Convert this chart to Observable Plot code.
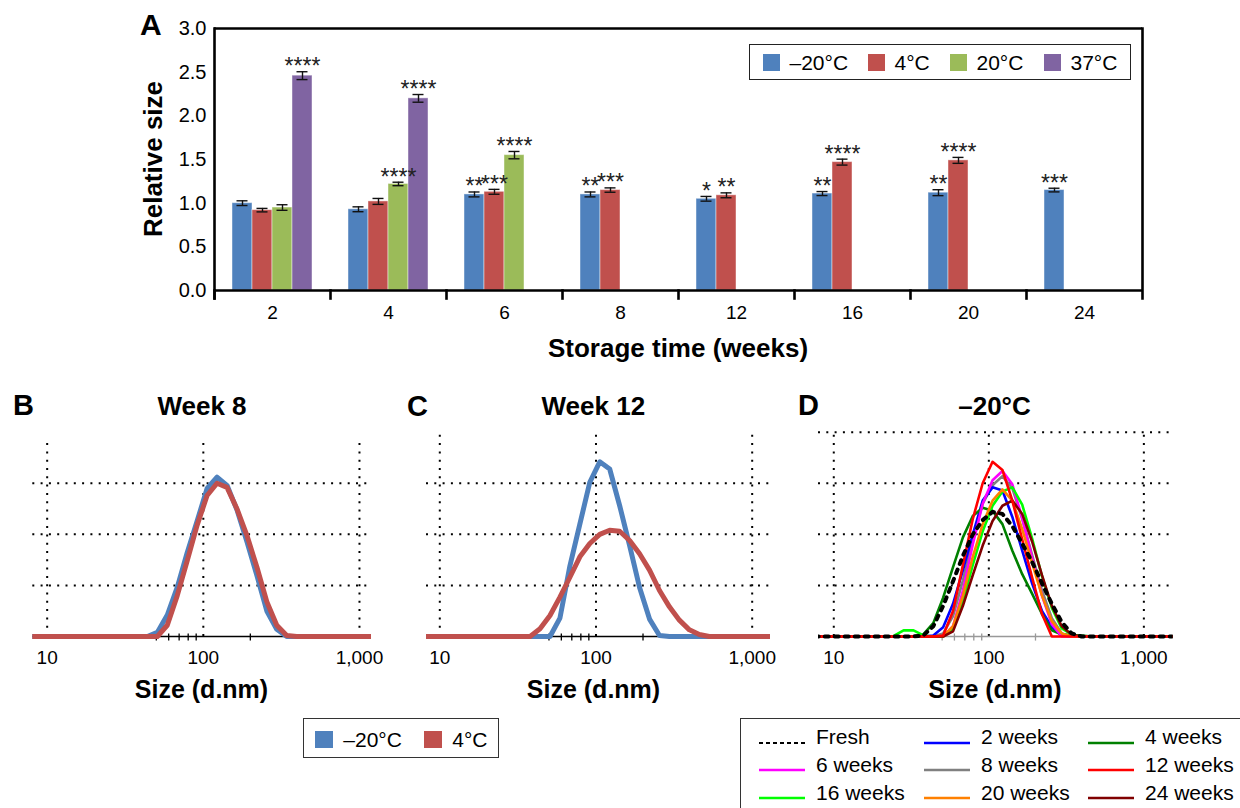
<!DOCTYPE html>
<html><head><meta charset="utf-8">
<script src="https://cdn.jsdelivr.net/npm/d3@7"></script>
<script src="https://cdn.jsdelivr.net/npm/@observablehq/plot@0.6"></script>
<style>
html,body{margin:0;padding:0;background:#fff;}
#page{position:relative;width:1240px;height:808px;overflow:hidden;background:#fff;font-family:"Liberation Sans",Arial,Helvetica,sans-serif;color:#000;}
.abs{position:absolute;}
.t{position:absolute;white-space:nowrap;line-height:1;}
</style></head><body><div id="page"></div>
<script>
// ---------- Panel A data ----------
const weeks = ["2", "4", "6", "8", "12", "16", "20", "24"];
const temps = ["–20°C", "4°C", "20°C", "37°C"];
const tempColors = ["#4F81BD", "#C0504D", "#9BBB59", "#8064A2"];
const sizeM20 = [1.00, 0.93, 1.10, 1.10, 1.05, 1.11, 1.12, 1.15];
const sizeP4  = [0.92, 1.02, 1.13, 1.15, 1.09, 1.47, 1.49, null];
const sizeP20 = [0.95, 1.22, 1.55, null, null, null, null, null];
const sizeP37 = [2.46, 2.20, null, null, null, null, null, null];
const errM20 = [0.027, 0.028, 0.028, 0.028, 0.027, 0.023, 0.034, 0.021];
const errP4  = [0.020, 0.034, 0.028, 0.025, 0.028, 0.034, 0.034, null];
const errP20 = [0.032, 0.020, 0.042, null, null, null, null, null];
const errP37 = [0.045, 0.044, null, null, null, null, null, null];
const sigM20 = ["", "", "**", "**", "*", "**", "**", "***"];
const sigP4  = ["", "", "***", "***", "**", "****", "****", ""];
const sigP20 = ["", "****", "****", "", "", "", "", ""];
const sigP37 = ["****", "****", "", "", "", "", "", ""];
const yTicksA = [0, 0.5, 1.0, 1.5, 2.0, 2.5, 3.0];

// ---------- DLS data (intensity per size bin, d.nm) ----------
const dlsBins = [7.531, 8.721, 10.1, 11.7, 13.54, 15.69, 18.17, 21.04, 24.36, 28.21, 32.67, 37.84, 43.82, 50.75, 58.77, 68.06, 78.82, 91.28, 105.7, 122.4, 141.8, 164.2, 190.1, 220.2, 255.0, 295.3, 342.0, 396.1, 458.7, 531.2, 615.1, 712.4, 825.0, 955.4, 1106, 1281, 1484, 1718];
// Panel B: week 8
const wk8M20 = [0,0,0,0,0,0,0,0,0,0,0,0,0, 0.4,2.1,4.8,8.2,11.3,14.5,15.6,14.8,12.4,9.3,6.0,2.5,0.7, 0,0,0,0,0,0,0,0,0,0,0,0];
const wk8P4  = [0,0,0,0,0,0,0,0,0,0,0,0,0,0, 1.1,4.0,7.4,10.9,13.8,15.0,14.6,12.5,9.9,6.8,3.4,1.1,0.1, 0,0,0,0,0,0,0,0,0,0,0];
// Panel C: week 12
const wk12M20 = [0,0,0,0,0,0,0,0,0,0,0,0,0,0, 1.8,6.9,11.0,15.1,17.1,16.4,12.8,8.9,4.8,1.7,0.1, 0,0,0,0,0,0,0,0,0,0,0,0,0];
const wk12P4  = [0,0,0,0,0,0,0,0,0,0,0,0, 0.75,2.05,3.85,5.8,7.8,9.1,10.0,10.4,10.3,9.4,8.1,6.5,4.5,2.9,1.6,0.65,0.2, 0,0,0,0,0,0,0,0,0];
// Panel D: –20°C over storage time
const dFresh = [0,0,0,0,0,0,0,0,0,0,0, 0.1,1.0,3.0,5.4,7.9,10.0,11.4,12.2,12.0,10.8,9.1,7.3,5.2,3.2,1.4,0.3, 0,0,0,0,0,0,0,0,0,0,0];
const d2w  = [0,0,0,0,0,0,0,0,0,0,0,0, 0.1,0.9,3.2,6.5,10.0,13.3,14.6,14.3,11.7,8.4,5.2,2.5,0.9,0.1, 0,0,0,0,0,0,0,0,0,0,0,0];
const d4w  = [0,0,0,0,0,0,0,0,0,0,0, 0.2,1.3,3.8,6.8,9.7,11.8,12.6,12.3,11.0,8.4,6.1,4.2,2.2,0.6,0.2,0.15,0.1, 0,0,0,0,0,0,0,0,0,0];
const d6w  = [0,0,0,0,0,0,0,0,0,0,0,0,0,0, 1.0,4.5,9.0,13.0,15.3,16.2,14.9,11.6,7.7,4.0,1.2, 0,0,0,0,0,0,0,0,0,0,0,0,0];
const d8w  = [0,0,0,0,0,0,0,0,0,0,0,0,0, 0.3,2.0,5.5,9.5,13.0,14.8,15.7,14.5,11.5,8.0,4.5,1.8,0.3, 0,0,0,0,0,0,0,0,0,0,0,0];
const d12w = [0,0,0,0,0,0,0,0,0,0,0,0,0, 0.1,2.5,7.0,11.5,15.0,17.1,16.3,13.3,9.5,5.8,2.2, 0,0,0,0,0,0,0,0,0,0,0,0,0,0];
const d16w = [0,0,0,0,0,0,0,0, 0.05,0.6,0.6,0.1,0,0,0.8,3.5,7.0,10.3,12.8,14.2,14.6,12.9,9.6,5.9,2.8,0.8,0.2, 0,0,0,0,0,0,0,0,0,0,0];
const d20w = [0,0,0,0,0,0,0,0,0,0,0,0,0,0, 1.0,4.0,7.8,11.0,13.3,14.4,13.3,10.5,7.2,4.0,1.5,0.3, 0,0,0,0,0,0,0,0,0,0,0,0];
const d24w = [0,0,0,0,0,0,0,0,0,0,0,0,0,0, 0.5,3.0,6.0,8.9,11.3,12.8,13.3,12.0,9.3,6.0,3.0,1.0,0.2, 0,0,0,0,0,0,0,0,0,0,0];
const dNames  = ["Fresh", "2 weeks", "4 weeks", "6 weeks", "8 weeks", "12 weeks", "16 weeks", "20 weeks", "24 weeks"];
const dColors = ["#000000", "#0000FF", "#008000", "#FF00FF", "#808080", "#FF0000", "#00FF00", "#FF8000", "#800000"];
const dlsTicks = [10, 100, 1000];
const dlsMinorTicks = [50, 60, 70, 80, 90, 200];
const dlsGridBC = [5, 10, 15];
const dlsGridD = [5, 10, 15, 20];

// ---------- helpers ----------
const page = document.getElementById("page");
const FONT = '"Liberation Sans", Arial, Helvetica, sans-serif';
const svgStyle = {fontFamily: FONT, background: "none", overflow: "visible", color: "#000"};

function place(node, left, top) {
  const w = document.createElement("div");
  w.className = "abs";
  w.style.left = left + "px";
  w.style.top = top + "px";
  w.appendChild(node);
  page.appendChild(w);
}
function txt(s, x, cy, size, opts = {}) {
  const d = document.createElement("div");
  d.className = "t";
  d.textContent = s;
  d.style.fontSize = size + "px";
  if (opts.bold) d.style.fontWeight = "bold";
  if (opts.rotate) {
    d.style.left = x + "px";
    d.style.top = cy + "px";
    d.style.transform = "translate(-50%,-50%) rotate(-90deg)";
  } else {
    d.style.left = x + "px";
    d.style.top = (cy - 0.4885 * size) + "px";
    if (opts.anchor === "middle") d.style.transform = "translateX(-50%)";
  }
  page.appendChild(d);
}
function box(left, top, w, h, style) {
  const d = document.createElement("div");
  d.className = "abs";
  Object.assign(d.style, {left: left + "px", top: top + "px", width: w + "px", height: h + "px", boxSizing: "border-box"}, style);
  page.appendChild(d);
}
function lineSample(left, cy, color, dash, widthPx) {
  const ns = "http://www.w3.org/2000/svg";
  const s = document.createElementNS(ns, "svg");
  s.setAttribute("width", 46); s.setAttribute("height", 8);
  const l = document.createElementNS(ns, "line");
  l.setAttribute("x1", 0); l.setAttribute("x2", 46); l.setAttribute("y1", 4); l.setAttribute("y2", 4);
  l.setAttribute("stroke", color); l.setAttribute("stroke-width", widthPx);
  if (dash) l.setAttribute("stroke-dasharray", dash);
  s.appendChild(l);
  place(s, left, cy - 4);
}

// ---------- Panel A ----------
const sizesA = [sizeM20, sizeP4, sizeP20, sizeP37];
const errsA = [errM20, errP4, errP20, errP37];
const sigsA = [sigM20, sigP4, sigP20, sigP37];
const rowsA = [];
temps.forEach((t, ti) => weeks.forEach((w, wi) => {
  const v = sizesA[ti][wi];
  if (v != null) rowsA.push({week: w, temp: t, value: v, err: errsA[ti][wi], sig: sigsA[ti][wi]});
}));

const A_W = 1240, A_H = 370, A_ML = 213, A_MR = 98, A_MT = 28, A_MB = 80;
const A_innerH = A_H - A_MT - A_MB;
const chartA = Plot.plot({
  width: A_W, height: A_H,
  marginLeft: A_ML, marginRight: A_MR, marginTop: A_MT, marginBottom: A_MB,
  style: svgStyle,
  fx: {domain: weeks, padding: 0, label: null},
  x: {domain: temps, paddingInner: 0, paddingOuter: 0.765, axis: null},
  y: {domain: [0, 3], axis: null},
  color: {domain: temps, range: tempColors},
  marks: [
    Plot.barY(rowsA, {fx: "week", x: "temp", y1: 0, y2: "value", fill: "temp", stroke: "#ffffff", strokeOpacity: 0.45, strokeWidth: 1}),
    Plot.ruleX(rowsA, {fx: "week", x: "temp", y1: d => d.value - d.err, y2: d => d.value + d.err, stroke: "#111", strokeWidth: 1.4}),
    Plot.tickY(rowsA, {fx: "week", x: "temp", y: d => d.value - d.err, stroke: "#111", strokeWidth: 1.4, insetLeft: 4.5, insetRight: 4.5}),
    Plot.tickY(rowsA, {fx: "week", x: "temp", y: d => d.value + d.err, stroke: "#111", strokeWidth: 1.4, insetLeft: 4.5, insetRight: 4.5}),
    Plot.text(rowsA.filter(d => d.sig), {fx: "week", x: "temp", y: d => d.value + d.err, text: "sig", lineAnchor: "bottom", dy: 2.5, fontSize: 23, fill: "#222"}),
    Plot.ruleY([0, 3], {stroke: "#000", strokeWidth: 2.6}),
    Plot.frame({anchor: "left", facetAnchor: "left", stroke: "#000", strokeWidth: 2.6, insetBottom: -8}),
    Plot.frame({anchor: "right", facetAnchor: "right", stroke: "#000", strokeWidth: 2.6, insetBottom: -8}),
    Plot.frame({anchor: "left", stroke: "#000", strokeWidth: 2.6, insetTop: A_innerH, insetBottom: -8}),
    Plot.axisY({ticks: yTicksA, tickFormat: d3.format(".1f"), tickSize: 0, tickPadding: 8, fontSize: 20, label: null}),
    Plot.axisFx({anchor: "bottom", tickSize: 0, tickPadding: 15, fontSize: 19, label: null})
  ]
});
place(chartA, 0, 0);

// ---------- DLS panels ----------
function rowsOf(arr) { return dlsBins.map((s, i) => ({size: s, value: arr[i]})); }
function dlsPlot({width, marginLeft, marginRight, domain, curves, grid, gridTop, baseColor}) {
  // y domain extends a little below zero so that the clip does not cut the zero-level curves
  return Plot.plot({
    width, height: 280, marginLeft, marginRight, marginTop: 31.7, marginBottom: 33.8,
    style: svgStyle,
    x: {type: "log", domain},
    y: {domain: [-1, 20], axis: null},
    marks: [
      Plot.ruleY(grid, {stroke: "#000", strokeWidth: 2, strokeDasharray: "2,6.3"}),
      Plot.ruleX(dlsTicks, {y1: 0, y2: gridTop, stroke: "#000", strokeWidth: 2, strokeDasharray: "2,6.3"}),
      Plot.ruleY([0], {stroke: baseColor, strokeWidth: 1.3}),
      Plot.ruleX(dlsMinorTicks, {y1: -0.45, y2: 0.25, stroke: baseColor, strokeWidth: 1.3}),
      ...curves.map(c => Plot.line(rowsOf(c.values), {x: "size", y: "value", stroke: c.color, strokeWidth: c.width, strokeDasharray: c.dash, clip: true})),
      Plot.axisX({ticks: dlsTicks, tickFormat: d3.format(","), tickSize: 0, tickPadding: 3.8, fontSize: 19, label: null})
    ]
  });
}

const BLUE = "#4F81BD", RED = "#C0504D";
place(dlsPlot({width: 400, marginLeft: 32.3, marginRight: 29, domain: [8.09, 1194], grid: dlsGridBC, gridTop: 19.2, baseColor: "#000",
  curves: [{values: wk8M20, color: BLUE, width: 5}, {values: wk8P4, color: RED, width: 5}]}), 0, 400);
place(dlsPlot({width: 390, marginLeft: 26, marginRight: 20, domain: [8.22, 1310], grid: dlsGridBC, gridTop: 20, baseColor: "#000",
  curves: [{values: wk12M20, color: BLUE, width: 5}, {values: wk12P4, color: RED, width: 5}]}), 400, 400);

const dValues = [dFresh, d2w, d4w, d6w, d8w, d12w, d16w, d20w, d24w];
const dOrder = [4, 1, 2, 3, 6, 7, 8, 5, 0];
place(dlsPlot({width: 450, marginLeft: 28, marginRight: 67.3, domain: [7.97, 1546], grid: dlsGridD, gridTop: 20, baseColor: "#999",
  curves: dOrder.map(i => ({values: dValues[i], color: dColors[i], width: i === 0 ? 4 : 2.6, dash: i === 0 ? "4,6" : null}))}), 790, 400);

// ---------- Texts ----------
txt("A", 140, 25, 30, {bold: true});
txt("Relative size", 153, 159, 26, {bold: true, rotate: true});
txt("Storage time (weeks)", 678, 348, 26, {bold: true, anchor: "middle"});

txt("B", 13, 405.5, 29, {bold: true});
txt("Week 8", 202, 406, 26, {bold: true, anchor: "middle"});
txt("C", 407, 406, 29, {bold: true});
txt("Week 12", 593.3, 406, 26, {bold: true, anchor: "middle"});
txt("D", 798, 405.5, 29, {bold: true});
txt("–20°C", 994.5, 406, 26, {bold: true, anchor: "middle"});
txt("Size (d.nm)", 201.5, 689, 25, {bold: true, anchor: "middle"});
txt("Size (d.nm)", 593.5, 689, 25, {bold: true, anchor: "middle"});
txt("Size (d.nm)", 995, 689, 25, {bold: true, anchor: "middle"});

// Legend A
box(749, 44, 382, 36, {border: "1.5px solid #222"});
const legAx = [763, 868, 950, 1044];
temps.forEach((t, i) => {
  box(legAx[i], 54, 17, 17, {background: tempColors[i]});
  txt(t, legAx[i] + 26.5, 62.5, 21);
});

// Legend B/C
box(303, 718, 196, 40, {border: "1.5px solid #333"});
[["–20°C", BLUE, 315], ["4°C", RED, 424]].forEach(([t, c, x]) => {
  box(x, 731, 18, 17, {background: c});
  txt(t, x + 28.3, 739, 21);
});

// Legend D
box(740, 718, 540, 110, {border: "1.5px solid #333"});
const legDx = [759, 924, 1088];
const legDy = [736.7, 764, 792];
dNames.forEach((n, i) => {
  const col = i % 3, row = Math.floor(i / 3);
  lineSample(legDx[col], legDy[row], dColors[i], i === 0 ? "4,3" : null, i === 0 ? 2 : 2.5);
  txt(n, legDx[col] + 57, legDy[row], 21);
});
</script></body></html>
